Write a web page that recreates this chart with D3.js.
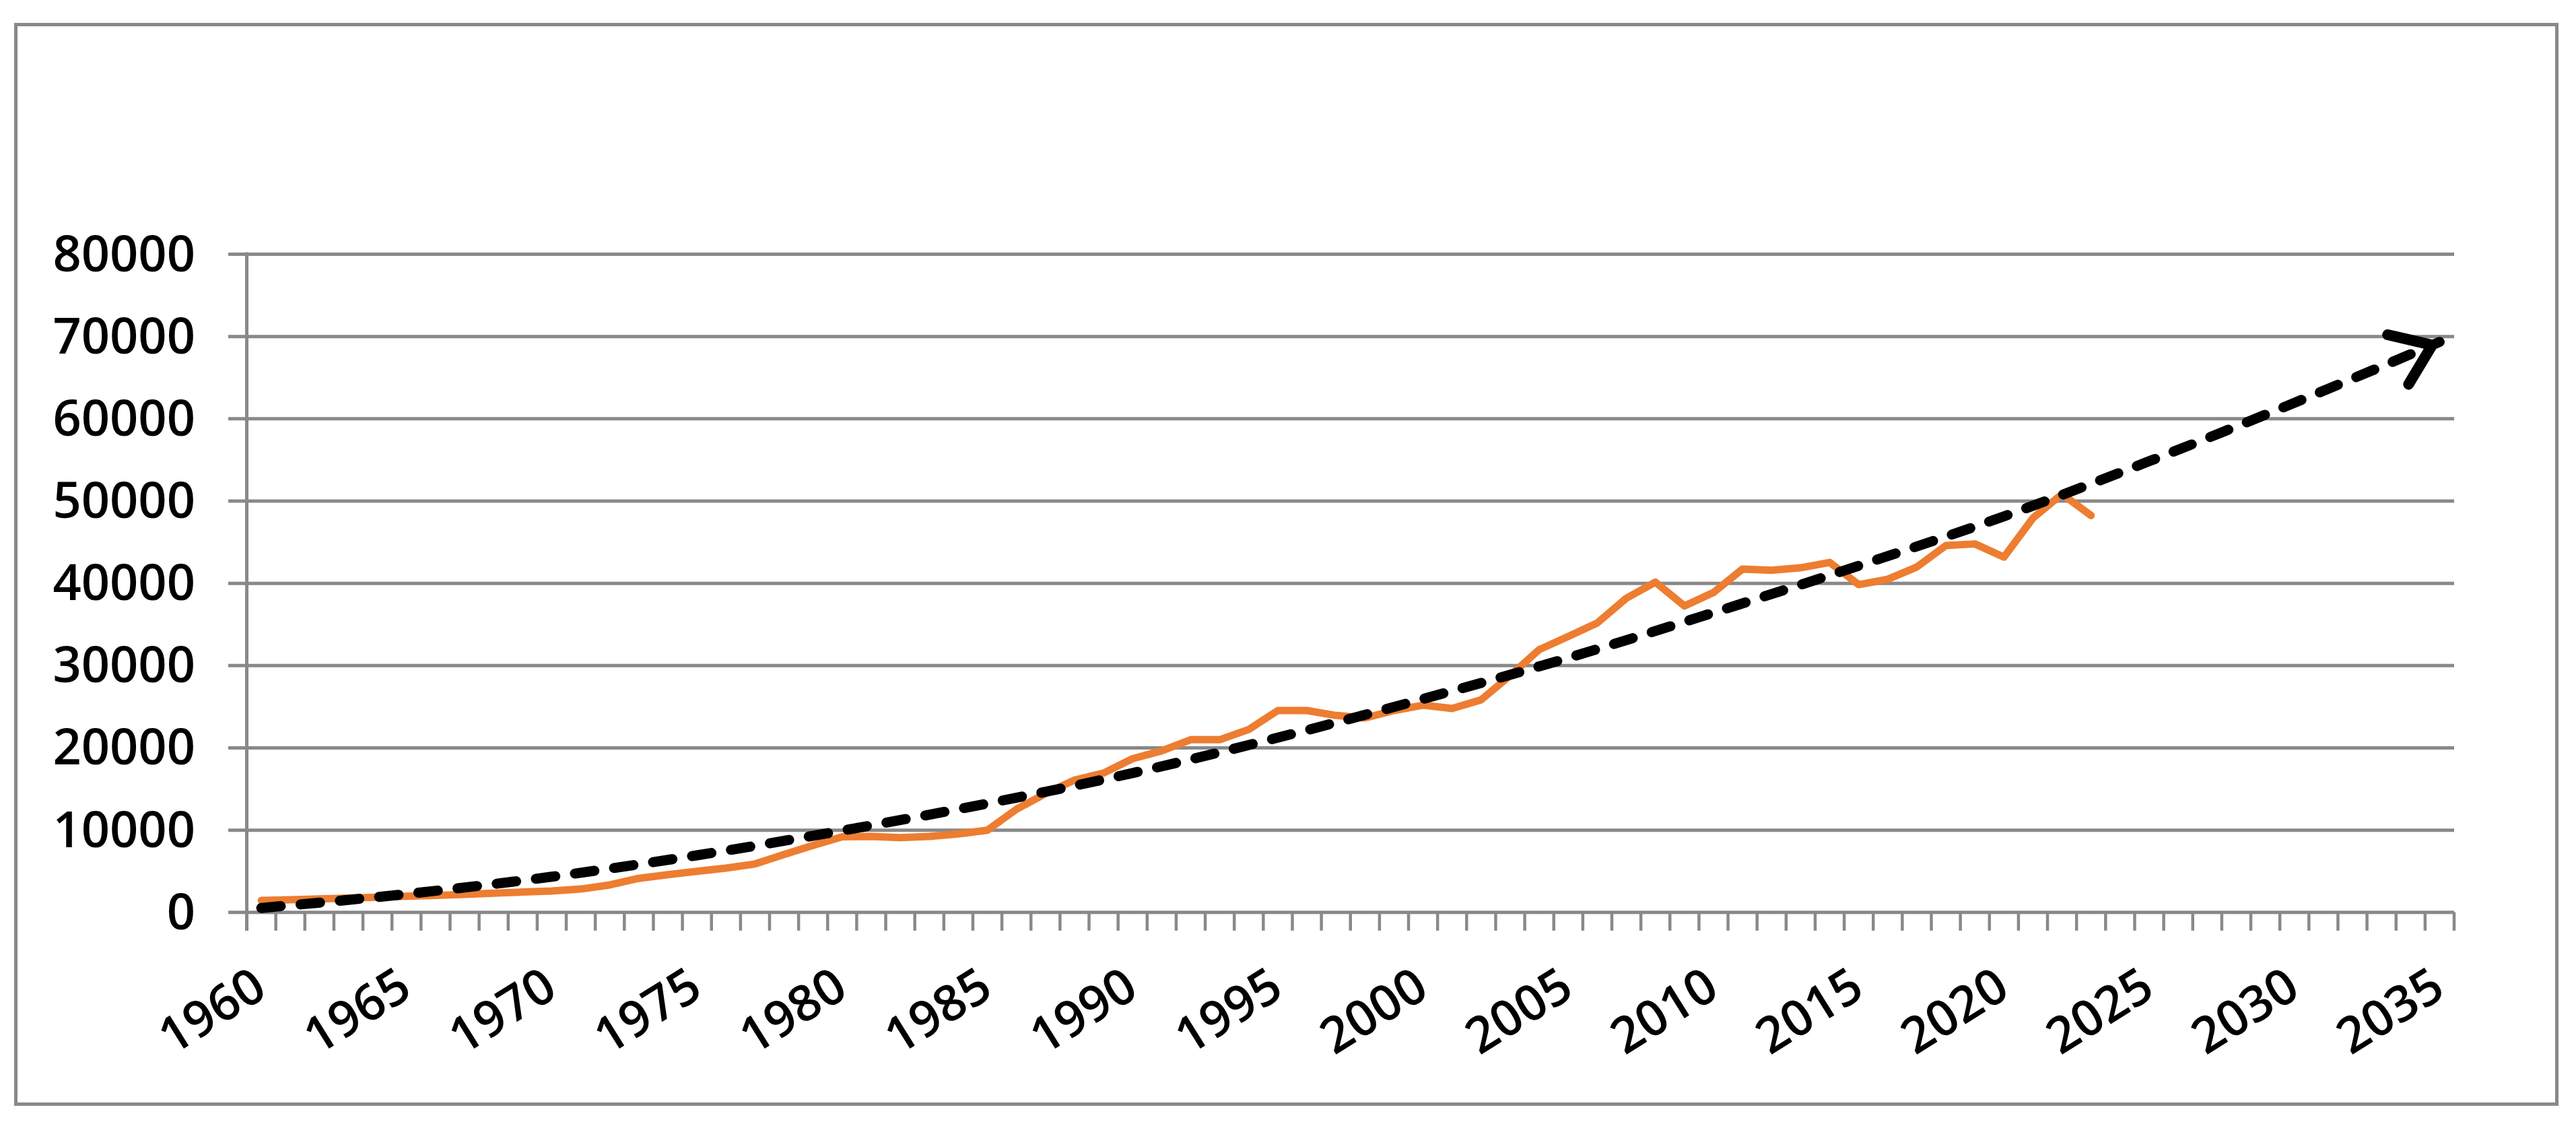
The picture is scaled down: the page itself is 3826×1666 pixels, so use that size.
<!DOCTYPE html>
<html><head><meta charset="utf-8">
<script src="https://cdn.jsdelivr.net/npm/d3@7"></script>
<style>html,body{margin:0;padding:0;background:#fff;} svg{display:block;}</style>
</head><body>
<svg id="chart" width="3826" height="1666"></svg>
<script>
// ---- data ----
const categories = [1960,1961,1962,1963,1964,1965,1966,1967,1968,1969,1970,1971,1972,1973,1974,1975,1976,1977,1978,1979,
  1980,1981,1982,1983,1984,1985,1986,1987,1988,1989,1990,1991,1992,1993,1994,1995,1996,1997,1998,1999,
  2000,2001,2002,2003,2004,2005,2006,2007,2008,2009,2010,2011,2012,2013,2014,2015,2016,2017,2018,2019,
  2020,2021,2022,2023,2024,2025,2026,2027,2028,2029,2030,2031,2032,2033,2034,2035];
const actualYears = [1960,1961,1962,1963,1964,1965,1966,1967,1968,1969,1970,1971,1972,1973,1974,1975,1976,1977,1978,1979,
  1980,1981,1982,1983,1984,1985,1986,1987,1988,1989,1990,1991,1992,1993,1994,1995,1996,1997,1998,1999,
  2000,2001,2002,2003,2004,2005,2006,2007,2008,2009,2010,2011,2012,2013,2014,2015,2016,2017,2018,2019,
  2020,2021,2022,2023];
const actualValues = [1420,1500,1610,1700,1800,1920,2020,2160,2300,2430,2570,2800,3300,4100,4550,4950,5350,5850,7000,8100,
  9150,9200,9050,9200,9500,9950,12500,14400,16050,16900,18650,19600,20950,20950,22200,24500,24500,23900,23600,24500,
  25150,24750,25800,28750,31900,33500,35150,38150,40100,37200,38850,41700,41550,41850,42500,39800,40450,41950,44550,44750,
  43150,47900,50800,48200];
const trendYears = [1960,1965,1970,1975,1980,1985,1990,1995,2000,2005,2010,2015,2020,2025,2030,2035];
const trendValues = [500,2200,4300,6900,9900,13200,16900,21200,25900,30900,36400,42100,48100,54800,61900,69300];
const yTickValues = [0,10000,20000,30000,40000,50000,60000,70000,80000];
const xTickLabels = ["1960","1965","1970","1975","1980","1985","1990","1995","2000","2005","2010","2015","2020","2025","2030","2035"];

// ---- drawing ----
const grey = '#898989';
const font = '"Open Sans", "Liberation Sans", sans-serif';
const svg = d3.select('#chart');

svg.append('rect').attr('x',23.5).attr('y',36.5).attr('width',3774).attr('height',1603)
  .attr('fill','#fff').attr('stroke',grey).attr('stroke-width',5);

const x = d3.scaleBand().domain(categories).range([366.5,3645]).padding(0);
const y = d3.scaleLinear().domain([0,80000]).range([1354.3,377]);
const cx = d => x(d) + x.bandwidth()/2;

// y axis with gridlines
const yAxis = d3.axisLeft(y).tickValues(yTickValues).tickFormat(d3.format('d'))
  .tickSizeInner(-(3645-339)).tickSizeOuter(0).tickPadding(49);
const gy = svg.append('g').attr('transform','translate(339,0)').call(yAxis);
gy.select('.domain').remove();
gy.selectAll('.tick line').attr('stroke',grey).attr('stroke-width',5);
gy.selectAll('.tick text').attr('font-family',font).attr('font-size',74).attr('font-weight',600).attr('fill','#000')
  .attr('dy',null).attr('dominant-baseline',null).attr('y',25);

// vertical y axis line
svg.append('line').attr('x1',x.range()[0]).attr('x2',x.range()[0]).attr('y1',y(80000)-2.5).attr('y2',y(0)+27.5)
  .attr('stroke',grey).attr('stroke-width',5);

// category tick marks at band boundaries
const edges = categories.map(c => x(c)).concat([x(categories[categories.length-1]) + x.bandwidth()]);
svg.append('g').selectAll('line').data(edges).join('line')
  .attr('x1',d=>d).attr('x2',d=>d).attr('y1',y(0)).attr('y2',y(0)+27.5)
  .attr('stroke',grey).attr('stroke-width',4.5);

// x labels
svg.append('g').selectAll('text').data(xTickLabels).join('text')
  .attr('transform', d => `translate(${cx(+d)+11.7},1477.7) rotate(-32)`)
  .attr('text-anchor','end').attr('font-family',font).attr('font-size',74).attr('font-weight',600).attr('fill','#000')
  .text(d=>d);

// actual series
const actual = actualYears.map((yr,i)=>({year:yr, value:actualValues[i]}));
svg.append('path').datum(actual)
  .attr('d', d3.line().x(d=>cx(d.year)).y(d=>y(d.value)))
  .attr('fill','none').attr('stroke','#ED7D31').attr('stroke-width',11)
  .attr('stroke-linejoin','round').attr('stroke-linecap','round');

// arrow marker
const defs = svg.append('defs');
defs.append('marker').attr('id','arrow').attr('markerUnits','userSpaceOnUse')
  .attr('viewBox','-120 -120 240 240').attr('markerWidth',240).attr('markerHeight',240)
  .attr('refX',12).attr('refY',0).attr('orient','auto')
  .append('path').attr('d','M-55,-40L0,0L-55,40')
  .attr('fill','none').attr('stroke','#000').attr('stroke-width',16)
  .attr('stroke-linejoin','miter').attr('stroke-miterlimit',10).attr('stroke-linecap','round');

// trend line
const trend = trendYears.map((yr,i)=>({year:yr, value:trendValues[i]}));
svg.append('path').datum(trend)
  .attr('d', d3.line().curve(d3.curveMonotoneX).x(d=>cx(d.year)).y(d=>y(d.value)))
  .attr('fill','none').attr('stroke','#000').attr('stroke-width',15)
  .attr('stroke-dasharray','29,29.6').attr('stroke-linecap','round')
  .attr('marker-end','url(#arrow)');
</script>
</body></html>
